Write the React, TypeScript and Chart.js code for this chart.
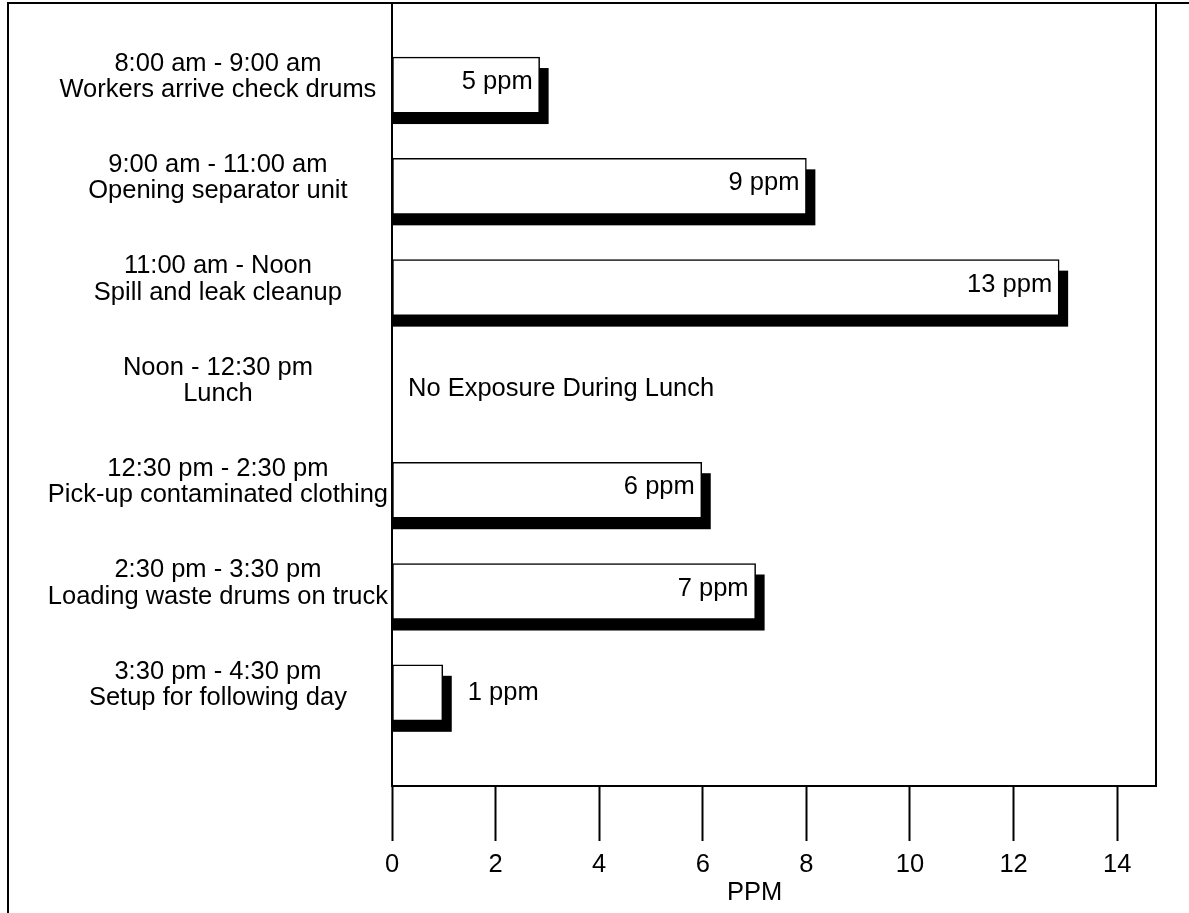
import React, { useEffect, useRef } from 'react';
import { Chart, registerables } from 'chart.js';

Chart.register(...registerables);

const FONT = "'Liberation Sans', Arial, Helvetica, sans-serif";
const FONT_SIZE = 25.5;

// Category labels (two lines each)
const categories: string[][] = [
  ['8:00 am - 9:00 am', 'Workers arrive check drums'],
  ['9:00 am - 11:00 am', 'Opening separator unit'],
  ['11:00 am - Noon', 'Spill and leak cleanup'],
  ['Noon - 12:30 pm', 'Lunch'],
  ['12:30 pm - 2:30 pm', 'Pick-up contaminated clothing'],
  ['2:30 pm - 3:30 pm', 'Loading waste drums on truck'],
  ['3:30 pm - 4:30 pm', 'Setup for following day'],
];

// Bar lengths as drawn (PPM axis)
const barValues: (number | null)[] = [2.85, 8.0, 12.88, null, 5.98, 7.02, 0.98];

// Text annotations written on the bars
const valueLabels: string[] = [
  '5 ppm',
  '9 ppm',
  '13 ppm',
  'No Exposure During Lunch',
  '6 ppm',
  '7 ppm',
  '1 ppm',
];

const xTicks: number[] = [0, 2, 4, 6, 8, 10, 12, 14];
const xAxisTitle = 'PPM';

const SHADOW_DX = 9;
const SHADOW_DY = 11;
const LABEL_RAISE = 0.08; // category labels sit slightly above their bars

export default function App() {
  const canvasRef = useRef<HTMLCanvasElement | null>(null);

  useEffect(() => {
    const canvas = canvasRef.current;
    if (!canvas) return;

    const points: { x: number; y: number }[] = [];
    barValues.forEach((v, i) => {
      if (v !== null) points.push({ x: v, y: i });
    });

    const shadowPlugin = {
      id: 'barShadow',
      beforeDatasetsDraw(chart: any) {
        const { ctx, chartArea } = chart;
        const meta = chart.getDatasetMeta(0);
        ctx.save();
        ctx.beginPath();
        ctx.rect(chartArea.left, chartArea.top, chartArea.right - chartArea.left, chartArea.bottom - chartArea.top);
        ctx.clip();
        ctx.fillStyle = '#000';
        meta.data.forEach((el: any) => {
          const p = el.getProps(['x', 'y', 'base', 'height'], true);
          if (!isFinite(p.x)) return;
          const left = Math.min(p.base, p.x);
          const w = Math.abs(p.x - p.base) + SHADOW_DX;
          ctx.fillRect(left, p.y - p.height / 2 + SHADOW_DY, w, p.height);
        });
        ctx.restore();
      },
    };

    const labelPlugin = {
      id: 'valueLabels',
      afterDatasetsDraw(chart: any) {
        const { ctx } = chart;
        const xs = chart.scales.x;
        const ys = chart.scales.y;
        ctx.save();
        ctx.font = `${FONT_SIZE}px ${FONT}`;
        ctx.fillStyle = '#000';
        ctx.textBaseline = 'middle';
        const base = xs.getPixelForValue(0);
        barValues.forEach((v, i) => {
          const text = valueLabels[i];
          if (v === null) {
            ctx.textAlign = 'left';
            ctx.fillText(text, base + 16, ys.getPixelForValue(i));
            return;
          }
          const yPix = ys.getPixelForValue(i) - 3;
          const end = xs.getPixelForValue(v);
          const w = ctx.measureText(text).width;
          if (w + 20 < end - base) {
            ctx.textAlign = 'right';
            ctx.fillText(text, end - 7, yPix);
          } else {
            ctx.textAlign = 'left';
            ctx.fillText(text, end + 25, yPix + 3);
          }
        });
        ctx.restore();
      },
    };

    const framePlugin = {
      id: 'frame',
      afterDraw(chart: any) {
        const { ctx, chartArea, width, height } = chart;
        const xs = chart.scales.x;
        ctx.save();
        ctx.strokeStyle = '#000';
        ctx.lineWidth = 2;
        // outer frame (left and top)
        ctx.beginPath();
        ctx.moveTo(8, height);
        ctx.lineTo(8, 3);
        ctx.lineTo(width, 3);
        ctx.stroke();
        // plot box
        ctx.strokeRect(chartArea.left, chartArea.top, chartArea.right - chartArea.left, chartArea.bottom - chartArea.top);
        // axis title centred under the tick range
        ctx.font = `${FONT_SIZE}px ${FONT}`;
        ctx.fillStyle = '#000';
        ctx.textAlign = 'center';
        ctx.textBaseline = 'middle';
        const mid = (xTicks[0] + xTicks[xTicks.length - 1]) / 2;
        ctx.fillText(xAxisTitle, xs.getPixelForValue(mid), chartArea.bottom + 107);
        ctx.restore();
      },
    };

    const chart = new Chart(canvas, {
      type: 'bar',
      data: {
        datasets: [
          {
            data: points as any,
            backgroundColor: '#fff',
            borderColor: '#000',
            borderWidth: 1.5,
            borderSkipped: false,
            barThickness: 56,
          },
        ],
      },
      options: {
        indexAxis: 'y',
        animation: false,
        responsive: false,
        layout: { padding: { top: 3, right: 33, bottom: 0, left: 0 } },
        plugins: {
          legend: { display: false },
          tooltip: { enabled: false },
          title: { display: false },
        },
        scales: {
          x: {
            type: 'linear',
            min: 0,
            max: 14.75,
            afterBuildTicks: (scale: any) => {
              scale.ticks = xTicks.map((v) => ({ value: v }));
            },
            afterFit: (scale: any) => {
              scale.height = 913 - 786;
              scale.paddingLeft = 0;
              scale.paddingRight = 0;
            },
            grid: {
              drawOnChartArea: false,
              drawTicks: true,
              tickLength: 55,
              tickWidth: 2,
              tickColor: '#000',
            },
            border: { display: false },
            ticks: {
              color: '#000',
              font: { family: FONT, size: FONT_SIZE },
              padding: 9,
              maxRotation: 0,
              autoSkip: false,
            },
          },
          y: {
            type: 'linear',
            reverse: true,
            offset: false,
            min: -0.81,
            max: 6.92,
            afterBuildTicks: (scale: any) => {
              scale.ticks = categories.map((_, i) => ({ value: i - LABEL_RAISE }));
            },
            afterFit: (scale: any) => {
              scale.width = 392;
              scale.paddingTop = 0;
              scale.paddingBottom = 0;
            },
            grid: { display: false, drawTicks: false },
            border: { display: false },
            ticks: {
              color: '#000',
              font: { family: FONT, size: FONT_SIZE, lineHeight: 1.03 },
              crossAlign: 'center',
              padding: 4,
              autoSkip: false,
              callback: (_v: any, index: number) => categories[index],
            },
          },
        },
      },
      plugins: [shadowPlugin, labelPlugin, framePlugin],
    });

    return () => {
      chart.destroy();
    };
  }, []);

  return (
    <div style={{ position: 'absolute', left: 0, top: 0, width: 1189, height: 913, background: '#fff' }}>
      <canvas ref={canvasRef} width={1189} height={913} style={{ width: 1189, height: 913, display: 'block' }} />
    </div>
  );
}
